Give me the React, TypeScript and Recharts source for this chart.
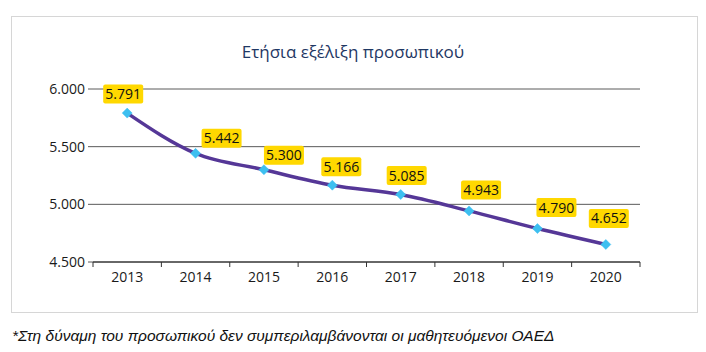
import React from "react";
import { LineChart, Line, XAxis, YAxis, CartesianGrid, LabelList } from "recharts";

const years = ["2013", "2014", "2015", "2016", "2017", "2018", "2019", "2020"];
const staff = [5791, 5442, 5300, 5166, 5085, 4943, 4790, 4652];
const yTicks = [4500, 5000, 5500, 6000];

const title = "Ετήσια εξέλιξη προσωπικού";
const footnote = "*Στη δύναμη του προσωπικού δεν συμπεριλαμβάνονται οι μαθητευόμενοι ΟΑΕΔ";

const data = years.map((y, i) => ({ year: y, value: staff[i] }));

// label box nudges (styling)
const NUDGE: [number, number][] = [
  [-4, -19], [26, -15], [20, -14.5], [9, -18.5], [6, -19], [12, -21], [19, -21], [3, -26],
];

const FONT = "'Open Sans', 'Noto Sans', sans-serif";
const fmt = (v: number) => {
  const s = String(Math.round(v));
  return s.length > 3 ? s.slice(0, s.length - 3) + "." + s.slice(-3) : s;
};

const XTick = (props: any) => {
  const { x, y, payload, index } = props;
  const off = payload.offset || 0;
  const last = index === years.length - 1;
  return (
    <g>
      <line x1={x - off} x2={x - off} y1={y} y2={y + 5} stroke="#333" strokeWidth={1} />
      {last && <line x1={x + off} x2={x + off} y1={y} y2={y + 5} stroke="#333" strokeWidth={1} />}
      <text x={x} y={y + 20} textAnchor="middle" fontFamily={FONT} fontSize={14} fill="#1a1a1a">
        {payload.value}
      </text>
    </g>
  );
};

const Diamond = (props: any) => {
  const { cx, cy } = props;
  if (cx == null || cy == null) return null;
  const r = 5;
  return (
    <path
      d={`M${cx},${cy - r} L${cx + r},${cy} L${cx},${cy + r} L${cx - r},${cy} Z`}
      fill="#3DBFF0"
      stroke="#3DBFF0"
      strokeWidth={0.5}
    />
  );
};

const ValueLabel = (props: any) => {
  const { x, y, value, index } = props;
  const [dx, dy] = NUDGE[index] || [10, -20];
  const cx = x + dx;
  const cy = y + dy;
  const w = 40;
  const h = 19;
  return (
    <g>
      <rect x={cx - w / 2} y={cy - h / 2} width={w} height={h} rx={2} fill="#FFD800" />
      <text x={cx} y={cy + 5} textAnchor="middle" fontFamily={FONT} fontSize={14} fill="#111">
        {fmt(value)}
      </text>
    </g>
  );
};

export default function App() {
  return (
    <div style={{ position: "absolute", left: 0, top: 0, width: 706, height: 352, background: "#fff" }}>
      <div
        style={{
          position: "absolute",
          left: 11,
          top: 16,
          width: 685,
          height: 295,
          border: "1px solid #D6D6D6",
        }}
      />
      <LineChart
        width={706}
        height={352}
        data={data}
        margin={{ top: 89, right: 66, bottom: 60, left: 0 }}
        style={{ position: "absolute", left: 0, top: 0 }}
      >
        <text x={353} y={58} textAnchor="middle" fontFamily={FONT} fontSize={17} fill="#1F3864">
          {title}
        </text>
        <CartesianGrid vertical={false} stroke="#5a5a5a" strokeWidth={1} />
        <XAxis
          dataKey="year"
          scale="band"
          axisLine={{ stroke: "#222", strokeWidth: 1 }}
          tickLine={false}
          tickSize={0}
          tickMargin={0}
          height={30}
          interval={0}
          tick={<XTick />}
        />
        <YAxis
          domain={[4500, 6000]}
          ticks={yTicks}
          width={93}
          axisLine={false}
          tickLine={{ stroke: "#5a5a5a" }}
          tickSize={5}
          tickMargin={3}
          tickFormatter={fmt}
          tick={{ fontFamily: FONT, fontSize: 14, fill: "#1a1a1a" }}
        />
        <Line
          type="monotone"
          dataKey="value"
          stroke="#553797"
          strokeWidth={3.5}
          dot={<Diamond />}
          activeDot={false}
          isAnimationActive={false}
        >
          <LabelList dataKey="value" content={<ValueLabel />} />
        </Line>
      </LineChart>
      <div
        style={{
          position: "absolute",
          left: 12,
          top: 326,
          fontFamily: "'Liberation Sans', Arial, sans-serif",
          fontStyle: "italic",
          fontSize: 15.5,
          color: "#111",
          whiteSpace: "nowrap",
          lineHeight: "20px",
        }}
      >
        {footnote}
      </div>
    </div>
  );
}
